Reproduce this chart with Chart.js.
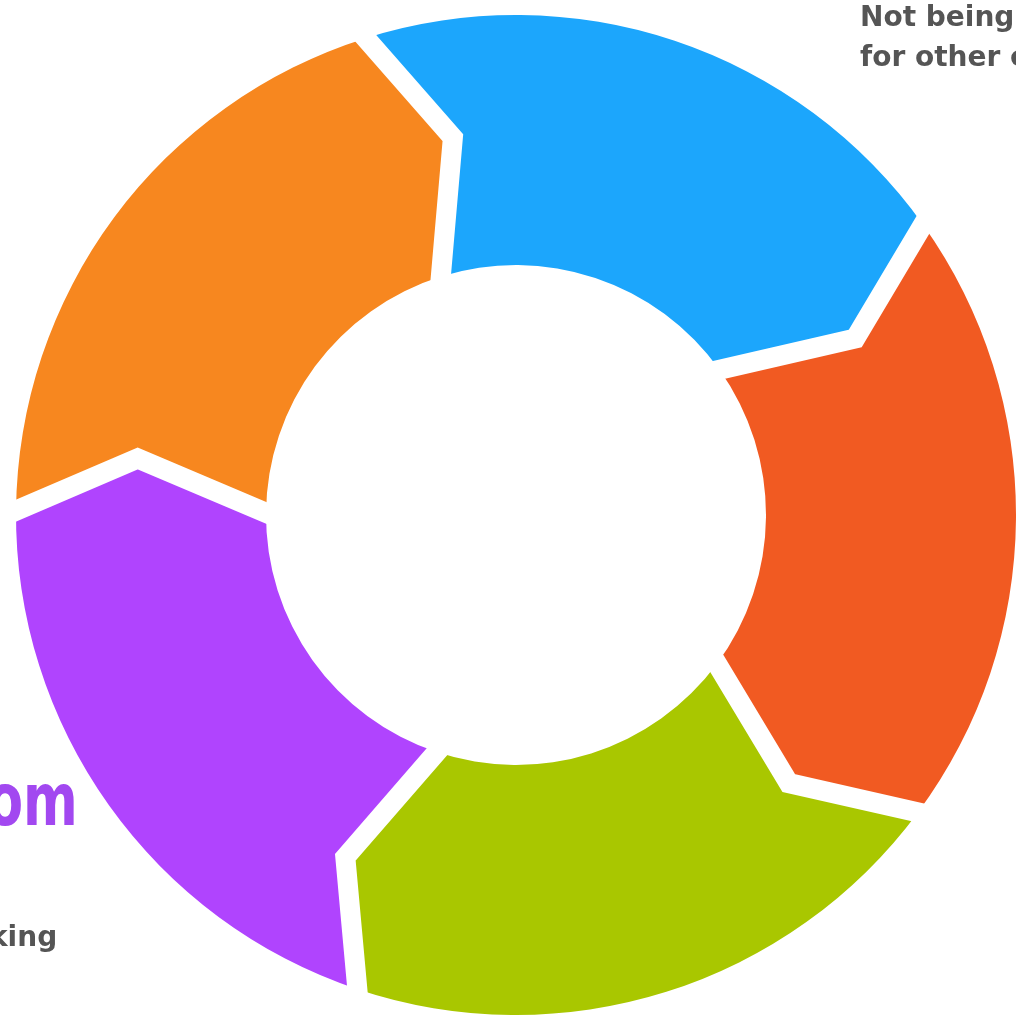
<!DOCTYPE html>
<html>
<head>
<meta charset="utf-8">
<title>Ring</title>
<script src="https://cdn.jsdelivr.net/npm/chart.js@4.4.1/dist/chart.umd.min.js"></script>
<style>
    html, body { margin: 0; padding: 0; background: #fff; overflow: hidden; }
    #wrap { position: relative; width: 1016px; height: 1020px; overflow: hidden; }
    #ringChart { position: absolute; left: 0; top: 0; }
    .note { position: absolute; font-family: "DejaVu Sans", sans-serif; font-weight: bold; color: #555555;
            font-size: 28px; line-height: 40px; white-space: nowrap; }
    .big { color: #a248f0; font-size: 73px; line-height: 73px;
           transform: scaleX(0.72); transform-origin: 0 0; }
</style>
</head>
<body>
<div id="wrap">
    <canvas id="ringChart" width="1016" height="1020"></canvas>
    <div class="note" style="left:860px; top:-3px;">Not being<br>for other c</div>
    <div class="note big" style="left:-13px; top:763px;">om</div>
    <div class="note" style="left:-11px; top:917px;">king</div>
</div>

<script>
const categories = ['Blue', 'Red', 'Green', 'Purple', 'Orange'];
const values = [20, 20, 20, 20, 20];
const colors = ['#1ca6fc', '#f15a22', '#a9c700', '#b044fe', '#f7871f'];

// arrow tip: angle ahead of the boundary and where along the ring it sits
const TIP_DEG = 8;
const TIP_POS = 0.53;
const GAP = 20;

function pt(cx, cy, r, a) {
    return [cx + r * Math.cos(a), cy + r * Math.sin(a)];
}

const chevronArcs = {
    id: 'chevronArcs',
    beforeDatasetsDraw(chart) {
        const ctx = chart.ctx;
        const arcs = chart.getDatasetMeta(0).data;
        const tip = TIP_DEG * Math.PI / 180;
        ctx.save();

        // fill every segment first
        arcs.forEach(arc => {
            const p = arc.getProps(['x', 'y', 'startAngle', 'endAngle', 'innerRadius', 'outerRadius']);
            const rMid = p.innerRadius + TIP_POS * (p.outerRadius - p.innerRadius);
            ctx.beginPath();
            ctx.arc(p.x, p.y, p.outerRadius, p.startAngle, p.endAngle, false);
            ctx.lineTo(...pt(p.x, p.y, rMid, p.endAngle + tip));
            ctx.lineTo(...pt(p.x, p.y, p.innerRadius, p.endAngle));
            ctx.arc(p.x, p.y, p.innerRadius, p.endAngle, p.startAngle, true);
            ctx.lineTo(...pt(p.x, p.y, rMid, p.startAngle + tip));
            ctx.closePath();
            ctx.fillStyle = arc.options.backgroundColor;
            ctx.fill();
        });

        // then cut the white gaps along each boundary
        ctx.strokeStyle = '#ffffff';
        ctx.lineWidth = GAP;
        ctx.lineJoin = 'miter';
        ctx.lineCap = 'butt';
        arcs.forEach(arc => {
            const p = arc.getProps(['x', 'y', 'startAngle', 'innerRadius', 'outerRadius']);
            const rMid = p.innerRadius + TIP_POS * (p.outerRadius - p.innerRadius);
            const a = p.startAngle;
            const o = pt(p.x, p.y, p.outerRadius, a);
            const m = pt(p.x, p.y, rMid, a + tip);
            const n = pt(p.x, p.y, p.innerRadius, a);
            // push both ends a little past the ring so no colour is left at the corners
            const ext = (from, to) => {
                const dx = to[0] - from[0], dy = to[1] - from[1];
                const len = Math.hypot(dx, dy);
                return [to[0] + dx / len * 30, to[1] + dy / len * 30];
            };
            ctx.beginPath();
            ctx.moveTo(...ext(m, o));
            ctx.lineTo(...m);
            ctx.lineTo(...ext(m, n));
            ctx.stroke();
        });

        ctx.restore();
        return false;
    }
};

new Chart(document.getElementById('ringChart'), {
    type: 'doughnut',
    data: {
        labels: categories,
        datasets: [{
            data: values,
            backgroundColor: colors,
            borderWidth: 0
        }]
    },
    options: {
        responsive: false,
        animation: false,
        rotation: -17.5,
        cutout: '50%',
        layout: { padding: { left: 16, right: 0, top: 15, bottom: 5 } },
        plugins: {
            legend: { display: false },
            tooltip: { enabled: false }
        }
    },
    plugins: [chevronArcs]
});
</script>
</body>
</html>
